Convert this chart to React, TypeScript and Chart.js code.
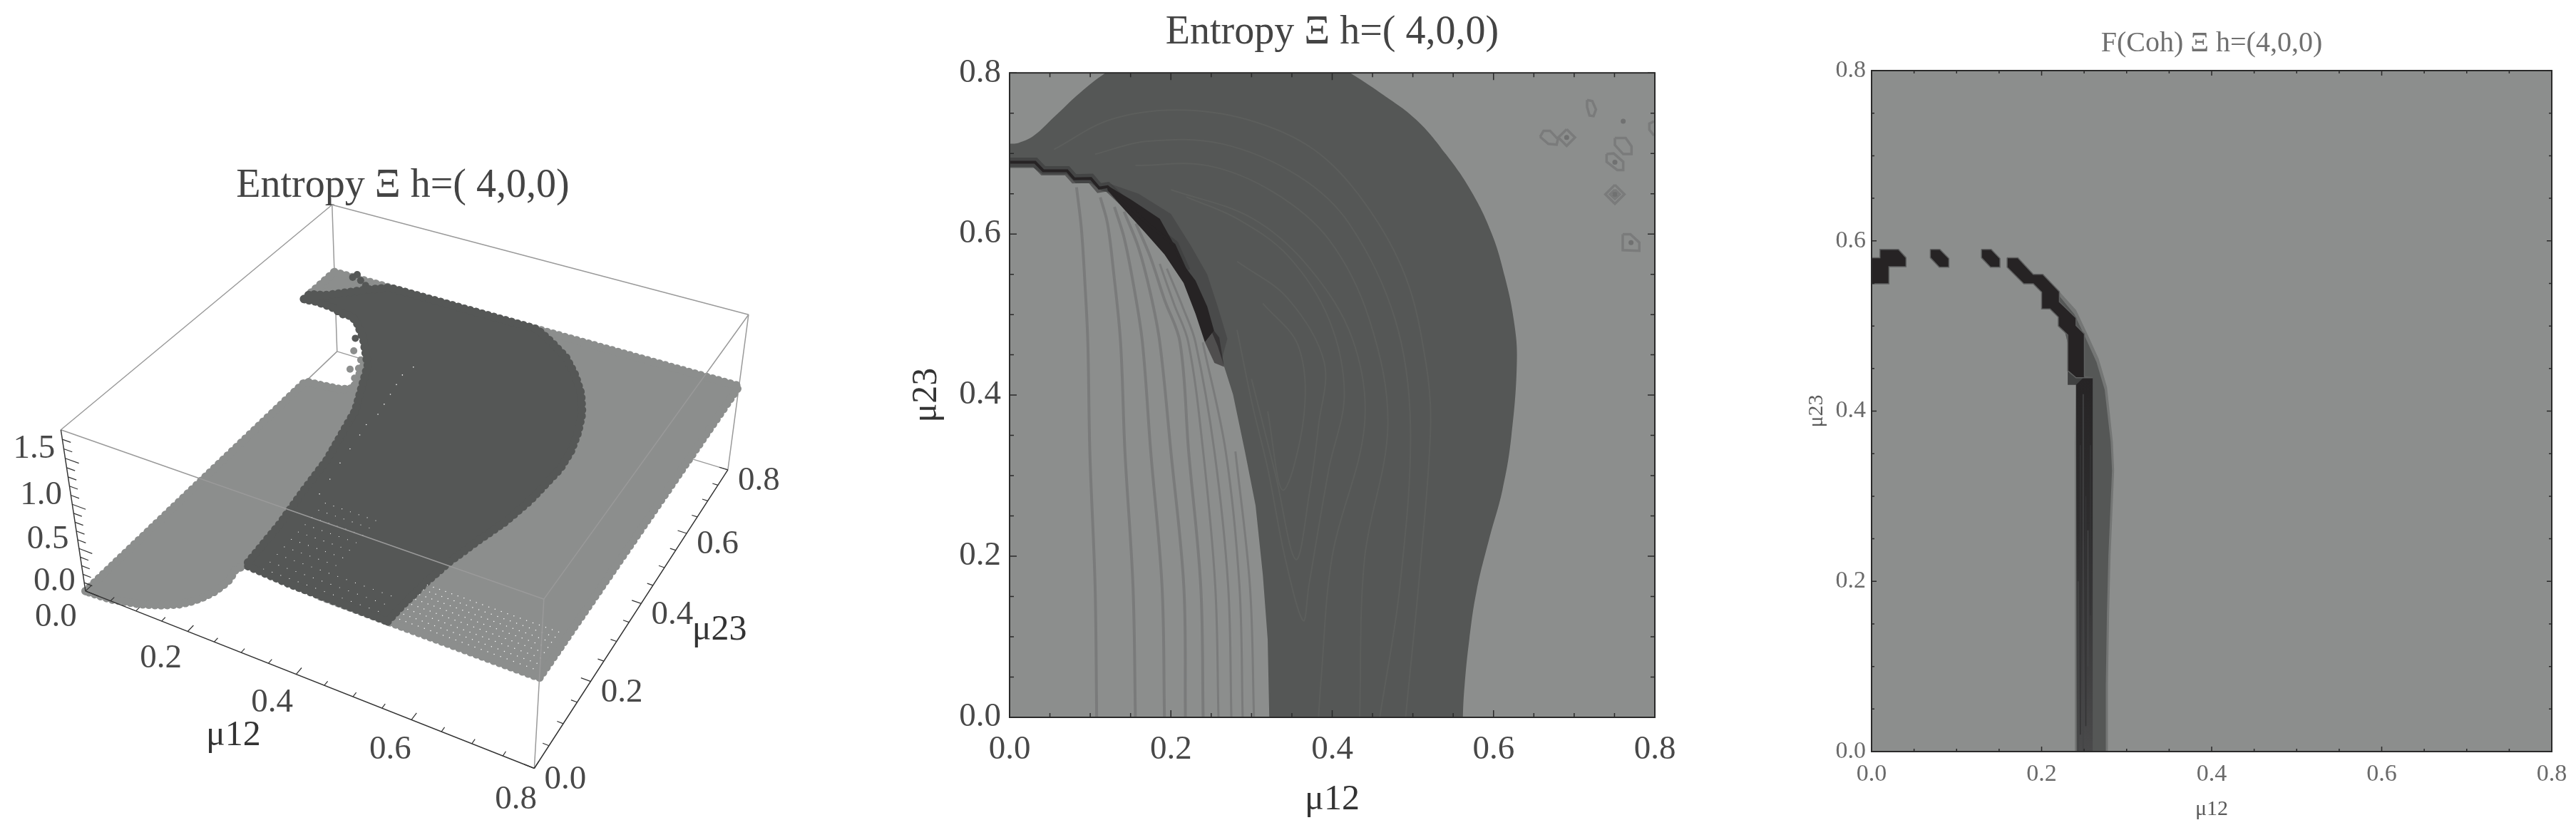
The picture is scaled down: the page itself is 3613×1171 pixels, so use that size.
import React, { useEffect, useRef } from 'react';
import { Chart, registerables } from 'chart.js';

Chart.register(...registerables);
Chart.defaults.font.family = '"Liberation Serif", serif';

type Pair = number[];
const GRAY = '#8c8e8d';
const DARK = '#555756';
const BLACK = '#262324';

// ---- shared axis ticks and titles
const tickValues = [0, .05, .1, .15, .2, .25, .3, .35, .4, .45, .5, .55, .6, .65, .7, .75, .8];
const tickLabels = ['0.0', '0.2', '0.4', '0.6', '0.8'];
const majorValues = [0, .2, .4, .6, .8];
const entropyTicks = [0, .5, 1, 1.5];
const entropyLabels = ['0.0', '0.5', '1.0', '1.5'];
const entropyMinor = [.1, .2, .3, .4, .6, .7, .8, .9, 1.1, 1.2, 1.3, 1.4, 1.6, 1.7];
const entropyTitle = 'Entropy Ξ h=( 4,0,0)';
const cohTitle = 'F(Coh) Ξ h=(4,0,0)';
const xTitle = 'μ12';
const yTitle = 'μ23';

// ---- middle panel: [μ12, μ23]
const plotSquare = [[0, 0], [.8, 0], [.8, .8], [0, .8], [0, 0]];
const darkRegion = [[.562, -.03], [.562, 0], [.564, .038], [.57, .097], [.579, .157], [.595, .223], [.611, .282], [.622, .348], [.629, .444], [.625, .494], [.614, .547], [.598, .6], [.573, .652], [.541, .699], [.504, .742], [.46, .775], [.422, .8], [.38, .825], [.16, .825], [.119, .8], [.087, .775], [.055, .745], [.03, .722], [.011, .713], [0, .712], [-.03, .71], [0, .65], [.2, .4], [.3, 0], [.3, -.03], [.562, -.03]];
const innerRegion = [[0, .682], [.03, .682], [.041, .674], [.071, .674], [.082, .663], [.101, .663], [.114, .654], [.125, .651], [.15, .626], [.182, .593], [.207, .56], [.233, .52], [.258, .461], [.277, .401], [.292, .329], [.305, .263], [.314, .177], [.32, .097], [.322, 0], [0, 0], [0, .682]];
const darkContours = [
  [[.491, 0], [.51, .196], [.522, .362], [.516, .441], [.491, .547], [.44, .639], [.377, .705], [.295, .742], [.207, .754], [.125, .742], [.055, .705]],
  [[.459, 0], [.484, .163], [.497, .362], [.478, .494], [.421, .613], [.358, .672], [.263, .712], [.169, .715], [.106, .699]],
  [[.434, 0], [.44, .196], [.469, .362], [.446, .494], [.396, .593], [.327, .652], [.245, .685], [.156, .685]],
  [[.383, 0], [.386, .044], [.4, .2], [.44, .362], [.425, .47], [.37, .56], [.3, .62], [.2, .655]],
  [[.282, .481], [.301, .388], [.32, .309], [.342, .196], [.364, .12], [.371, .163], [.396, .309], [.415, .401], [.396, .494], [.345, .573], [.282, .619], [.219, .646]],
  [[.3, .42], [.33, .3], [.355, .196], [.372, .28], [.383, .362], [.39, .441], [.345, .52], [.282, .566]],
  [[.32, .38], [.339, .282], [.365, .375], [.358, .461], [.314, .514]],
];
const blackHalo = [[.125, .662], [.16, .65], [.2, .625], [.225, .585], [.245, .55], [.258, .51], [.27, .47], [.262, .44], [.258, .461], [.233, .52], [.207, .56], [.182, .593], [.15, .626]];
const blackWedge = [[.1214, .66], [.151, .6425], [.1862, .619], [.201, .5923], [.2127, .5658], [.2305, .5422], [.2451, .5098], [.2535, .48], [.2422, .4655], [.2305, .5009], [.2157, .5392], [.192, .5746], [.1686, .6012], [.142, .6307], [.1214, .6543]];
const blackTail = [[.2422, .4655], [.2535, .48], [.26, .4714], [.266, .435], [.254, .44]];
const stairLine = [[0, .689], [.0316, .689], [.0418, .6785], [.0713, .6785], [.0802, .6685], [.1008, .669], [.1111, .657], [.1214, .6587], [.145, .6366], [.1745, .61], [.204, .5865], [.2186, .554]];
const grayContours = [
  [[.108, 0], [.106, .163], [.0995, .33], [.097, .4655], [.0934, .539], [.089, .607], [.083, .658]],
  [[.156, 0], [.153, .163], [.143, .33], [.1376, .4655], [.1288, .554], [.1214, .613], [.1125, .6455]],
  [[.192, 0], [.189, .163], [.175, .33], [.1647, .4655], [.1538, .536], [.142, .5953], [.13, .6337]],
  [[.218, 0], [.216, .163], [.2, .33], [.1862, .4655], [.1744, .5275], [.1597, .5835], [.142, .6277]],
  [[.24, 0], [.237, .163], [.222, .33], [.2113, .4655], [.192, .5186], [.1744, .5717], [.1567, .613]],
  [[.259, 0], [.255, .163], [.24, .33], [.2216, .4655], [.204, .5127], [.1862, .5629]],
  [[.275, 0], [.271, .163], [.254, .33], [.2305, .4655], [.2157, .5068], [.195, .557]],
  [[.289, 0], [.285, .163], [.268, .33], [.2395, .4655]],
  [[.303, 0], [.298, .163], [.28, .33]],
];
const islands = [
  [[.6907, .7301], [.701, .7198], [.6907, .7095], [.6804, .7198], [.6907, .7301]],
  [[.6577, .7207], [.6621, .7281], [.6701, .7281], [.6798, .7177], [.6783, .7109], [.668, .7118], [.6577, .7207]],
  [[.716, .7664], [.7225, .7649], [.727, .7546], [.724, .7463], [.719, .7472], [.716, .7576], [.716, .7664]],
  [[.7505, .7192], [.7638, .7192], [.7711, .7089], [.7711, .6992], [.7608, .6992], [.7505, .7104], [.7505, .7192]],
  [[.7402, .6992], [.749, .7], [.7608, .6897], [.7608, .6794], [.7534, .6794], [.7402, .6897], [.7402, .6992]],
  [[.7505, .6611], [.7623, .6493], [.7505, .6375], [.7387, .6493], [.7505, .6611]],
  [[.7505, .655], [.7565, .6493], [.7505, .6436], [.7445, .6493], [.7505, .655]],
  [[.7602, .5998], [.7697, .5998], [.7808, .5894], [.7808, .5791], [.7602, .58], [.7602, .5998]],
  [[.799, .7399], [.7932, .737], [.7932, .7295], [.799, .7222]],
];
const islandDots = [[.6907, .7198], [.7608, .7399], [.7505, .6891], [.7705, .5894], [.7505, .6493]];

// ---- right panel: [μ12, μ23]
const cohHalo = [[.2209, .5403], [.2405, .5187], [.2531, .4922], [.2671, .4615], [.2769, .428], [.2838, .3637], [.2853, .33], [.2811, .2296], [.2794, .1626], [.278, .0788], [.278, 0], [.2391, 0], [.2391, .3637], [.2405, .44], [.2209, .52], [.2209, .5403]];
const cohBody = [[.2209, .535], [.2385, .5137], [.2511, .4872], [.2645, .4575], [.2742, .425], [.2812, .3637], [.2828, .33], [.2785, .2296], [.2768, .1626], [.2755, .0788], [.2755, 0], [.2413, 0], [.2413, .3637], [.2405, .44], [.2209, .52], [.2209, .535]];
const cohColumn = [[.2405, .4391], [.2601, .4391], [.2601, 0], [.2413, 0], [.2405, .4391]];
const cohStreaks = [
  [[.2455, .36], [.2455, .02]], [[.2489, .42], [.2489, 0]], [[.252, .3], [.252, .03]],
  [[.2545, .26], [.2545, .1]], [[.2575, .36], [.2575, .16]], [[.243, .2], [.243, 0]],
];
const cohStep = [[.2307, .4475], [.2307, .4307], [.2405, .4307], [.2503, .4405]];
const cohBlobs = [
  [[0, .5802], [.0098, .5802], [.0098, .59], [.0316, .59], [.0405, .5802], [.0405, .5696], [.0204, .5696], [.0204, .5495], [0, .5495], [0, .5802]],
  [[.0691, .59], [.0803, .59], [.0909, .5793], [.0909, .569], [.0797, .569], [.0691, .5802], [.0691, .59]],
  [[.1292, .59], [.1407, .59], [.151, .5793], [.151, .569], [.1399, .569], [.1292, .5802], [.1292, .59]],
  [[.1594, .5802], [.172, .5802], [.1902, .5606], [.2014, .5606], [.2209, .5403], [.2209, .5285], [.2405, .5095], [.2405, .5005], [.2503, .4908], [.2503, .4405], [.2601, .4391], [.2405, .4391], [.2307, .4475], [.2307, .4894], [.2196, .5], [.2196, .5103], [.2098, .5201], [.2, .5201], [.2, .5397], [.1902, .5495], [.179, .5495], [.1594, .569], [.1594, .5802]],
];

// ---- left panel: [μ12, μ23, entropy]
const plateau = [[0, .8, 1], [.8, .8, 1], [.8, 0, 1], [.45, 0, 1], [.45, .7, 1], [.05, .75, 1], [0, .712, 1], [0, .8, 1]];
const rampSurface = [[0, 0, 0], [0, .682, 0], [.03, .68, .02], [.06, .675, .06], [.09, .665, .12], [.125, .65, .25], [.15, .626, .5], [.182, .593, .85], [.233, .52, 1.1], [.277, .401, 1.12], [.305, .263, 1.12], [.322, 0, 1.04], [.303, 0, .95], [.289, 0, .8], [.275, 0, .7], [.259, 0, .6], [.24, 0, .5], [.218, 0, .4], [.192, 0, .3], [.156, 0, .2], [.108, 0, .1], [.05, 0, .02], [0, 0, 0]];
const ridgeSurface = [[.562, 0, 1], [.564, .038, 1], [.57, .097, 1], [.579, .157, 1], [.595, .223, 1], [.611, .282, 1], [.622, .348, 1], [.629, .444, 1], [.625, .494, 1], [.614, .547, 1], [.598, .6, 1], [.573, .652, 1], [.541, .699, 1], [.504, .742, 1], [.46, .775, 1], [.422, .8, 1], [.119, .8, 1], [.087, .775, 1], [.055, .745, 1], [.03, .722, 1], [.011, .713, 1], [0, .712, 1], [0, .689, 1], [.03, .686, 1.03], [.07, .675, 1.06], [.1, .66, 1.08], [.125, .651, 1.12], [.15, .626, 1.17], [.182, .593, 1.14], [.233, .52, 1.15], [.277, .401, 1.12], [.305, .263, 1.12], [.314, .177, 1.12], [.32, .097, 1.08], [.322, 0, 1.04], [.4, 0, 1.01], [.562, 0, 1]];
const darkBalls = [[.04, .8, 1], [.05, .8, 1.05], [.059, .797, 1], [.076, .786, 1], [.15, .635, 1.08], [.165, .63, 1.08], [.15, .62, 1]];
const grayBalls = [[.137, .635, .78], [.125, .64, .52], [.14, .63, .47], [.16, .62, .76], [.155, .62, .65]];
const grayHoleMu12 = [.575, .585, .595, .605, .615, .625, .635, .645, .655, .665, .675, .685, .695, .705, .715, .725, .735, .745, .755, .765, .775, .785];
const grayHoleMu23 = [.012, .024, .036, .048, .06, .072, .084, .096];
const darkHoleMu12 = [.345, .36, .375, .39, .405, .42, .435];
const darkHoleMu23 = [.012, .03, .05, .07, .09, .11, .13, .15, .17, .19];
const darkHoleFrontMu12 = [.45, .465, .48, .495, .51, .525, .54];
const darkHoleFrontMu23 = [.012, .03, .05];
const ridgeGaps = [[.3, .56, 1.12], [.295, .53, 1.12], [.3, .5, 1.12], [.305, .47, 1.12], [.31, .44, 1.12], [.315, .41, 1.12], [.31, .38, 1.1], [.315, .35, 1.1], [.32, .31, 1.1], [.325, .27, 1.1], [.33, .23, 1.08], [.335, .19, 1.08]];

// ---- camera of the 3D box, in page pixels
const camera = [[548.2, 453, -40.5, 116], [124.9, -236.4, -269, 832], [-.1156, .2056, -.0687, 1]];
const MU_MAX = .8;
const S_MAX = 1.8;

function project([mu12, mu23, s]: Pair) {
  const u = mu12 / MU_MAX, v = mu23 / MU_MAX, t = s / S_MAX;
  const row = (r: number[]) => r[0] * u + r[1] * v + r[2] * t + r[3];
  const w = row(camera[2]);
  return { x: row(camera[0]) / w, y: row(camera[1]) / w };
}
const p2 = (rows: Pair[]) => rows.map(([x, y]) => ({ x, y }));
const p3 = (rows: Pair[]) => rows.map(project);
const BREAK = { x: NaN, y: NaN };

function segments3d(list: Pair[][]) {
  const out: { x: number; y: number }[] = [];
  list.forEach(([a, b]) => out.push(project(a), project(b), BREAK));
  return out;
}

function layered(ds: any[]) {
  return ds.map((d, i) => ({ pointRadius: 0, borderWidth: 0, tension: 0, ...d, order: ds.length - i }));
}
const poly = (rows: Pair[], color: string, extra: any = {}) => ({ data: p2(rows), fill: 'shape', backgroundColor: color, ...extra });
const curve = (rows: Pair[], color: string, width: number, tension = .35) => ({ data: p2(rows), borderColor: color, borderWidth: width, tension, fill: false });

// ---- frame and inward ticks of the flat panels
function framePlugin(major: number, minor: number, color: string) {
  return {
    id: 'frameTicks',
    afterDatasetsDraw(chart: any) {
      const { ctx, chartArea: a, scales } = chart;
      ctx.save();
      ctx.strokeStyle = color;
      ctx.lineWidth = 2;
      ctx.strokeRect(a.left, a.top, a.right - a.left, a.bottom - a.top);
      ctx.lineWidth = 1.5;
      ctx.beginPath();
      tickValues.forEach((v) => {
        const len = majorValues.some((m) => Math.abs(m - v) < 1e-6) ? major : minor;
        const x = scales.x.getPixelForValue(v), y = scales.y.getPixelForValue(v);
        ctx.moveTo(x, a.bottom); ctx.lineTo(x, a.bottom - len);
        ctx.moveTo(x, a.top); ctx.lineTo(x, a.top + len);
        ctx.moveTo(a.left, y); ctx.lineTo(a.left + len, y);
        ctx.moveTo(a.right, y); ctx.lineTo(a.right - len, y);
      });
      ctx.stroke();
      ctx.restore();
    },
  };
}

function flatAxis(pos: 'x' | 'y', size: number, o: any) {
  const tickLabel = (v: number) => {
    const i = majorValues.findIndex((m) => Math.abs(m - v) < 1e-6);
    return i >= 0 ? tickLabels[i] : '';
  };
  return {
    type: 'linear', min: 0, max: .8,
    position: pos === 'x' ? 'bottom' : 'left',
    afterBuildTicks: (s: any) => { s.ticks = tickValues.map((value) => ({ value })); },
    afterFit: (s: any) => { if (pos === 'x') s.height = size; else s.width = size; },
    grid: { display: false, drawTicks: false },
    border: { display: false },
    ticks: { autoSkip: false, maxRotation: 0, minRotation: 0, padding: o.pad, color: o.tickColor, font: { size: o.tickSize }, callback: tickLabel },
    title: { display: true, text: pos === 'x' ? xTitle : yTitle, color: o.titleColor, font: { size: o.titleSize, lineHeight: 1.2 }, padding: pos === 'x' ? { top: 0, bottom: o.titlePad } : { top: o.titlePad, bottom: 0 } },
  };
}

function flatOptions(o: any) {
  return {
    responsive: false, animation: false as const, maintainAspectRatio: false, devicePixelRatio: 1, events: [],
    layout: { padding: { top: 0, left: 0, right: o.right, bottom: 0 } },
    plugins: {
      legend: { display: false }, tooltip: { enabled: false },
      title: { display: true, fullSize: false, text: o.title, color: o.headColor, font: { size: o.headSize, weight: 'normal', lineHeight: 1.2 }, padding: o.headPad },
    },
    scales: {
      x: flatAxis('x', o.bottom, { pad: o.xPad, tickColor: o.tickColor, tickSize: o.tickSize, titleColor: o.titleColor, titleSize: o.titleSize, titlePad: o.xTitlePad }),
      y: flatAxis('y', o.left, { pad: o.yPad, tickColor: o.tickColor, tickSize: o.tickSize, titleColor: o.titleColor, titleSize: o.titleSize, titlePad: o.yTitlePad }),
    },
  };
}

function middleConfig() {
  const ds = [
    poly(plotSquare, GRAY),
    poly(darkRegion, DARK, { tension: .4 }),
    ...darkContours.map((c) => curve(c, '#5c5e5c', 2)),
    poly(blackHalo, 'rgba(38,35,36,.24)'),
    poly(innerRegion, GRAY),
    ...grayContours.map((c, i) => curve(c, '#7a7b7b', i < 5 ? 4 : 3)),
    curve(stairLine, 'rgba(60,60,60,.65)', 13, 0),
    poly(blackTail, 'rgba(38,35,36,.6)'),
    poly(blackWedge, BLACK),
    curve(stairLine, BLACK, 4, 0),
    ...islands.map((c) => curve(c, '#7a7b7b', 3.5, 0)),
    { data: p2(islandDots), showLine: false, pointRadius: 3.5, pointBackgroundColor: '#707171', pointBorderWidth: 0 },
  ];
  return {
    type: 'line', data: { datasets: layered(ds) },
    options: flatOptions({
      right: 129, bottom: 165, left: 166, title: entropyTitle, headColor: '#444', headSize: 56, headPad: { top: 13, bottom: 22 },
      tickColor: '#484848', tickSize: 47, titleColor: '#333', titleSize: 50, xPad: 17, yPad: 12, xTitlePad: 19, yTitlePad: 20,
    }),
    plugins: [framePlugin(10, 6, '#2a2a2a')],
  };
}

function rightConfig() {
  const columnFill = (c: any) => {
    const chart = c.chart;
    if (!chart.chartArea) return '#3a3a3a';
    const y = chart.scales.y;
    const g = chart.ctx.createLinearGradient(0, y.getPixelForValue(.44), 0, y.getPixelForValue(0));
    g.addColorStop(0, '#262425');
    g.addColorStop(.4, '#2e2d2e');
    g.addColorStop(1, '#4a4a4b');
    return g;
  };
  const ds = [
    poly(plotSquare, GRAY),
    poly(cohHalo, '#747675'),
    poly(cohBody, DARK),
    poly(cohColumn, '#3a3a3a', { backgroundColor: columnFill }),
    ...cohStreaks.map((c, i) => curve(c, i % 2 ? '#454647' : '#343435', 1.5, 0)),
    poly(cohStep, '#404141'),
    ...cohBlobs.map((b) => poly(b, BLACK, { borderColor: '#5f6060', borderWidth: 1.5 })),
  ];
  return {
    type: 'line', data: { datasets: layered(ds) },
    options: flatOptions({
      right: 34, bottom: 117, left: 155, title: cohTitle, headColor: '#707070', headSize: 40, headPad: { top: 37, bottom: 14 },
      tickColor: '#6a6a6a', tickSize: 34, titleColor: '#5a5a5a', titleSize: 30, xPad: 12, yPad: 8, xTitlePad: 18, yTitlePad: 60,
    }),
    plugins: [framePlugin(7, 4, '#2a2a2a')],
  };
}

function leftConfig() {
  const edges = (a: Pair, b: Pair) => [a, b];
  const M = MU_MAX, Z = S_MAX;
  const backBox = segments3d([
    edges([0, 0, 0], [0, M, 0]), edges([0, M, 0], [M, M, 0]), edges([0, M, 0], [0, M, Z]),
    edges([0, 0, Z], [0, M, Z]), edges([0, M, Z], [M, M, Z]), edges([M, M, 0], [M, M, Z]),
  ]);
  const frontBox = segments3d([
    edges([0, 0, Z], [M, 0, Z]), edges([M, 0, Z], [M, M, Z]), edges([M, 0, 0], [M, 0, Z]),
  ]);
  const axes = segments3d([edges([0, 0, 0], [M, 0, 0]), edges([M, 0, 0], [M, M, 0]), edges([0, 0, 0], [0, 0, Z])]);
  const isMajor = (v: number) => majorValues.some((m) => Math.abs(m - v) < 1e-6);
  const tickSegs = segments3d([
    ...tickValues.map((v) => edges([v, 0, 0], [v, isMajor(v) ? .016 : .01, 0])),
    ...tickValues.map((v) => edges([M, v, 0], [M - (isMajor(v) ? .016 : .01), v, 0])),
    ...entropyTicks.map((s) => edges([0, 0, s], [.026, 0, s])),
    ...entropyMinor.map((s) => edges([0, 0, s], [.016, 0, s])),
  ]);
  const cross = (xs: number[], ys: number[]) => xs.flatMap((a) => ys.map((b) => [a, b, 1]));
  const dots = (mode: string) => ({ borderColor: mode, backgroundColor: mode, borderWidth: 12, borderDash: [.01, 8.6], borderCapStyle: 'round', borderJoinStyle: 'round' });
  const line = (data: any[], color: string, width: number) => ({ data, borderColor: color, borderWidth: width, fill: false, clip: false });
  const scatter = (rows: Pair[], color: string, r: number) => ({ data: p3(rows), showLine: false, pointRadius: r, pointBackgroundColor: color, pointBorderWidth: 0, clip: false });
  const ds = [
    line(backBox, '#9a9a9a', 1.5),
    { data: p3(rampSurface), fill: 'shape', clip: false, ...dots(GRAY) },
    { data: p3(plateau), fill: 'shape', clip: false, ...dots(GRAY) },
    scatter(grayBalls, GRAY, 5),
    scatter(darkBalls, DARK, 5),
    { data: p3(ridgeSurface), fill: 'shape', clip: false, ...dots(DARK) },
    scatter(cross(grayHoleMu12, grayHoleMu23), '#ffffff', .75),
    scatter(cross(darkHoleMu12, darkHoleMu23), '#ffffff', .6),
    scatter(cross(darkHoleFrontMu12, darkHoleFrontMu23), '#ffffff', .6),
    scatter(ridgeGaps, '#ffffff', .8),
    line(frontBox, '#9a9a9a', 1.5),
    line(axes, '#333333', 1.5),
    line(tickSegs, '#333333', 1.2),
  ];
  const labels3d = {
    id: 'labels3d',
    afterDatasetsDraw(chart: any) {
      const { ctx, scales } = chart;
      const put = (text: string, px: number, py: number, size: number, color: string) => {
        ctx.font = `${size}px "Liberation Serif", serif`;
        ctx.fillStyle = color;
        ctx.textAlign = 'center';
        ctx.textBaseline = 'middle';
        ctx.fillText(text, scales.x.getPixelForValue(px), scales.y.getPixelForValue(py));
      };
      ctx.save();
      majorValues.forEach((v, i) => {
        const a = project([v, 0, 0]);
        const u = v / MU_MAX;
        put(tickLabels[i], a.x - 42 + 16 * u, a.y + 37 + 7 * u, 47, '#484848');
        const b = project([MU_MAX, v, 0]);
        put(tickLabels[i], b.x + 44, b.y + 16, 47, '#484848');
      });
      entropyTicks.forEach((s, i) => {
        const c = project([0, 0, s]);
        put(entropyLabels[i], c.x - 44, c.y - 13, 47, '#484848');
      });
      const mid12 = project([.5, 0, 0]);
      put(xTitle, mid12.x - 169, mid12.y + 55, 50, '#333');
      const mid23 = project([MU_MAX, .35, 0]);
      put(yTitle, mid23.x + 128, mid23.y + 11, 50, '#333');
      ctx.restore();
    },
  };
  return {
    type: 'line', data: { datasets: layered(ds) },
    options: {
      responsive: false, animation: false as const, maintainAspectRatio: false, devicePixelRatio: 1, events: [],
      plugins: {
        legend: { display: false }, tooltip: { enabled: false },
        title: { display: true, text: entropyTitle, color: '#444', font: { size: 56, weight: 'normal', lineHeight: 1 }, padding: { top: 33.5, bottom: 0 } },
      },
      scales: {
        x: { type: 'linear', display: false, min: 0, max: 1130 },
        y: { type: 'linear', display: false, min: 289.5, max: 1171, reverse: true },
      },
    },
    plugins: [labels3d],
  };
}

function Panel({ make, left, top, width, height }: any) {
  const ref = useRef<HTMLCanvasElement>(null);
  useEffect(() => {
    const chart = new Chart(ref.current as HTMLCanvasElement, make());
    return () => chart.destroy();
  }, [make]);
  return <canvas ref={ref} width={width} height={height} style={{ position: 'absolute', left, top, width, height, display: 'block' }} />;
}

export default function App() {
  return (
    <div style={{ position: 'absolute', left: 0, top: 0, width: 3613, height: 1171, background: '#fff', overflow: 'hidden' }}>
      <Panel make={leftConfig} left={0} top={200} width={1130} height={971} />
      <Panel make={middleConfig} left={1250} top={0} width={1200} height={1171} />
      <Panel make={rightConfig} left={2470} top={0} width={1143} height={1171} />
    </div>
  );
}
